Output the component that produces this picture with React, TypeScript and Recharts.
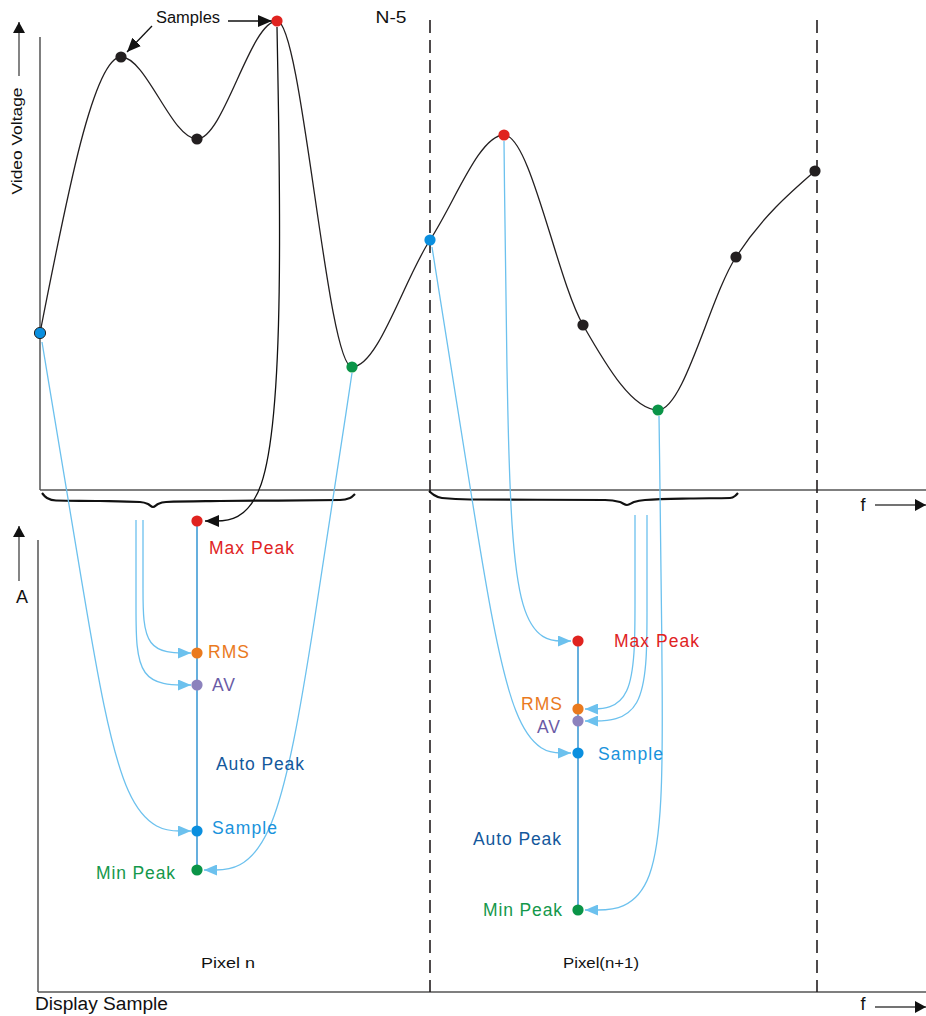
import React from 'react';
import { ComposedChart, Line, Scatter, XAxis, YAxis } from 'recharts';

const W = 926;
const H = 1016;

// diagram units: x to the right, y downward (y axis is reversed)
const sampleX = [40, 121, 197, 277, 352, 430, 504, 583, 658, 736, 815];
const sampleY = [333, 57, 139, 21, 367, 240, 135, 325, 410, 257, 171];
const sampleKind = ['sample', 'plain', 'plain', 'max', 'min', 'sample', 'max', 'plain', 'min', 'plain', 'plain'];

const detectorKinds = ['max', 'rms', 'av', 'sample', 'min'];
const pixelNX = 197;
const pixelNLevels = [521, 653, 685, 831, 870];
const pixelN1X = 578;
const pixelN1Levels = [641, 709, 721, 753, 910];

const detectorNames: Record<string, string> = {
  max: 'Max Peak', rms: 'RMS', av: 'AV', sample: 'Sample', auto: 'Auto Peak', min: 'Min Peak',
};
const labelsN = [
  { x: 209, y: 548, key: 'max' },
  { x: 208, y: 652, key: 'rms' },
  { x: 212, y: 685, key: 'av' },
  { x: 216, y: 764, key: 'auto' },
  { x: 212, y: 828, key: 'sample' },
  { x: 175, y: 873, key: 'min', end: true },
];
const labelsN1 = [
  { x: 614, y: 641, key: 'max' },
  { x: 562, y: 704, key: 'rms', end: true },
  { x: 560, y: 727, key: 'av', end: true },
  { x: 598, y: 754, key: 'sample' },
  { x: 561, y: 839, key: 'auto', end: true },
  { x: 562, y: 910, key: 'min', end: true },
];
const plainLabels = [
  { x: 16, y: 141, text: 'Video Voltage' },
  { x: 22, y: 597, text: 'A' },
  { x: 863, y: 505, text: 'f' },
  { x: 863, y: 1004, text: 'f' },
  { x: 35, y: 1004, text: 'Display Sample' },
  { x: 228, y: 963, text: 'Pixel n' },
  { x: 601, y: 963, text: 'Pixel(n+1)' },
  { x: 391, y: 17, text: 'N-5' },
  { x: 188, y: 17, text: 'Samples' },
];

// control polygons of the connectors (drawn as B-splines)
const cSampleN = [[42, 342], [83, 590], [124, 831], [191, 831]];
const cMinN = [[352, 373], [315, 620], [274, 870], [204, 870]];
const cRmsN = [[143, 520], [143, 590], [143, 653], [191, 653]];
const cAvN = [[136, 520], [136, 610], [136, 685], [191, 685]];
const cMaxN = [[277, 27], [282, 300], [270, 521], [205, 521]];
const cSampleN1 = [[432, 247], [472, 500], [513, 753], [571, 753]];
const cMaxN1 = [[504, 141], [507, 420], [515, 641], [571, 641]];
const cMinN1 = [[659, 416], [663, 700], [662, 910], [585, 910]];
const cRmsN1 = [[635, 515], [635, 600], [635, 709], [585, 709]];
const cAvN1 = [[647, 515], [647, 610], [647, 721], [585, 721]];

const braceN = [[42, 493], [47, 498], [56, 500.5], [100, 501], [140, 502], [148, 504], [153, 507], [158, 504], [166, 502], [220, 501], [340, 500], [350, 498], [355, 494]];
const braceN1 = [[429, 491], [434, 495], [442, 498], [470, 499.5], [605, 500], [620, 502], [627, 505], [634, 502], [645, 500], [690, 498.5], [730, 498], [735, 496], [738, 493]];

const samplesArrow1 = [[152, 26], [127, 52]];
const samplesArrow2 = [[228, 21], [272, 21]];
const voltArrow = [[19, 76], [19, 22]];
const ampArrow = [[19, 581], [19, 526]];
const fArrowTop = [[875, 505], [926, 505]];
const fArrowBottom = [[875, 1007], [926, 1007]];
const divider1 = [[430, 20], [430, 992]];
const divider2 = [[817, 20], [817, 992]];
const topYAxis = [[40, 37], [40, 490]];
const topXAxis = [[40, 490], [926, 490]];
const botYAxis = [[38, 540], [38, 992]];
const botXAxis = [[38, 992], [926, 992]];

const pts = (a: number[][]) => a.map(([x, y]) => ({ x, y }));

const samples = sampleX.map((x, i) => ({ x, y: sampleY[i], kind: sampleKind[i], first: i === 0 }));
const pixelN = detectorKinds.map((kind, i) => ({ x: pixelNX, y: pixelNLevels[i], kind }));
const pixelN1 = detectorKinds.map((kind, i) => ({ x: pixelN1X, y: pixelN1Levels[i], kind }));

const FONT = "'Liberation Sans', Arial, sans-serif";
const LIGHT = '#6cc1ee';
const INK = '#231f20';

const DOT_COLOR: Record<string, string> = {
  plain: '#231f20', max: '#e0231f', min: '#0a9447', sample: '#0a8fdf', rms: '#ea7a1e', av: '#8c82bd',
};
const TEXT_COLOR: Record<string, string> = {
  max: '#e0231f', rms: '#ea7a1e', av: '#6a5ba6', sample: '#1a93dc', auto: '#14589c', min: '#14984b',
};
const TEXT_LEN: Record<string, number> = {
  max: 85, rms: 41, av: 23, sample: 65, auto: 88, min: 79,
};
const PLAIN_STYLE: Record<string, { size: number; len?: number; anchor: string; rotate?: boolean }> = {
  'Video Voltage': { size: 15, len: 107, anchor: 'middle', rotate: true },
  A: { size: 18, anchor: 'middle' },
  f: { size: 18, anchor: 'middle' },
  'Display Sample': { size: 18, len: 133, anchor: 'start' },
  'Pixel n': { size: 14, len: 54, anchor: 'middle' },
  'Pixel(n+1)': { size: 14, len: 76, anchor: 'middle' },
  'N-5': { size: 17, len: 31, anchor: 'middle' },
  Samples: { size: 16, len: 64, anchor: 'middle' },
};

const DotShape = (p: any) => (
  <circle
    cx={p.cx}
    cy={p.cy}
    r={5.6}
    fill={DOT_COLOR[p.payload.kind]}
    stroke={p.payload.first ? '#222' : 'none'}
    strokeWidth={1}
  />
);

const DetectorLabel = (p: any) => {
  const d = p.payload;
  return (
    <text
      x={p.cx}
      y={p.cy}
      textAnchor={d.end ? 'end' : 'start'}
      dominantBaseline="central"
      fill={TEXT_COLOR[d.key]}
      fontFamily={FONT}
      fontSize={17.5}
      textLength={TEXT_LEN[d.key]}
    >
      {detectorNames[d.key]}
    </text>
  );
};

const PlainLabel = (p: any) => {
  const d = p.payload;
  const s = PLAIN_STYLE[d.text];
  return (
    <text
      x={p.cx}
      y={p.cy}
      textAnchor={s.anchor}
      dominantBaseline="central"
      fill="#111"
      fontFamily={FONT}
      fontSize={s.size}
      textLength={s.len}
      lengthAdjust="spacingAndGlyphs"
      transform={s.rotate ? `rotate(-90 ${p.cx} ${p.cy})` : undefined}
    >
      {d.text}
    </text>
  );
};

const seg = (id: string, data: number[][], stroke: string, width: number, extra: any = {}) => (
  <Line
    key={id}
    data={pts(data)}
    dataKey="y"
    type="linear"
    stroke={stroke}
    strokeWidth={width}
    dot={false}
    activeDot={false}
    legendType="none"
    isAnimationActive={false}
    {...extra}
  />
);

export default function App() {
  return (
    <div style={{ position: 'absolute', left: 0, top: 0, width: W, height: H, background: '#fff' }}>
      <svg width={0} height={0} style={{ position: 'absolute' }}>
        <defs>
          <marker id="arrBlue" viewBox="0 0 13 11" refX={13} refY={5.5} markerWidth={13} markerHeight={11} markerUnits="userSpaceOnUse" orient="auto">
            <path d="M0,0 L13,5.5 L0,11 Z" fill={LIGHT} />
          </marker>
          <marker id="arrBlack" viewBox="0 0 14 12" refX={14} refY={6} markerWidth={14} markerHeight={12} markerUnits="userSpaceOnUse" orient="auto">
            <path d="M0,0 L14,6 L0,12 Z" fill="#111" />
          </marker>
          <marker id="arrAxis" viewBox="0 0 11 12" refX={11} refY={6} markerWidth={11} markerHeight={12} markerUnits="userSpaceOnUse" orient="auto">
            <path d="M0,0 L11,6 L0,12 Z" fill="#111" />
          </marker>
        </defs>
      </svg>
      <ComposedChart width={W} height={H} margin={{ top: 0, right: 0, bottom: 0, left: 0 }}>
        <XAxis type="number" dataKey="x" domain={[0, W]} hide />
        <YAxis type="number" dataKey="y" domain={[0, H]} reversed hide />

        {seg('topY', topYAxis, '#3a3a3a', 1.3)}
        {seg('topX', topXAxis, '#555', 1.3)}
        {seg('botY', botYAxis, '#3a3a3a', 1.3)}
        {seg('botX', botXAxis, '#555', 1.5)}
        {seg('div1', divider1, INK, 1.6, { strokeDasharray: '13 7' })}
        {seg('div2', divider2, INK, 1.6, { strokeDasharray: '13 7' })}

        {seg('voltArrow', voltArrow, '#666', 1.6, { markerEnd: 'url(#arrAxis)' })}
        {seg('ampArrow', ampArrow, '#666', 1.6, { markerEnd: 'url(#arrAxis)' })}
        {seg('fTop', fArrowTop, '#444', 1.3, { markerEnd: 'url(#arrAxis)' })}
        {seg('fBot', fArrowBottom, '#444', 1.3, { markerEnd: 'url(#arrAxis)' })}

        {seg('braceN', braceN, '#111', 2.2, { type: 'monotoneX' })}
        {seg('braceN1', braceN1, '#111', 2.2, { type: 'monotoneX' })}

        {seg('pixN', [[pixelNX, pixelNLevels[0]], [pixelNX, pixelNLevels[4]]], '#3f9bd6', 1.6)}
        {seg('pixN1', [[pixelN1X, pixelN1Levels[0]], [pixelN1X, pixelN1Levels[4]]], '#3f9bd6', 1.6)}

        {seg('cSampleN', cSampleN, LIGHT, 1.3, { type: 'basis', markerEnd: 'url(#arrBlue)' })}
        {seg('cMinN', cMinN, LIGHT, 1.3, { type: 'basis', markerEnd: 'url(#arrBlue)' })}
        {seg('cRmsN', cRmsN, LIGHT, 1.3, { type: 'basis', markerEnd: 'url(#arrBlue)' })}
        {seg('cAvN', cAvN, LIGHT, 1.3, { type: 'basis', markerEnd: 'url(#arrBlue)' })}
        {seg('cSampleN1', cSampleN1, LIGHT, 1.3, { type: 'basis', markerEnd: 'url(#arrBlue)' })}
        {seg('cMaxN1', cMaxN1, LIGHT, 1.3, { type: 'basis', markerEnd: 'url(#arrBlue)' })}
        {seg('cMinN1', cMinN1, LIGHT, 1.3, { type: 'basis', markerEnd: 'url(#arrBlue)' })}
        {seg('cRmsN1', cRmsN1, LIGHT, 1.3, { type: 'basis', markerEnd: 'url(#arrBlue)' })}
        {seg('cAvN1', cAvN1, LIGHT, 1.3, { type: 'basis', markerEnd: 'url(#arrBlue)' })}
        {seg('cMaxN', cMaxN, '#111', 1.3, { type: 'basis', markerEnd: 'url(#arrBlack)' })}

        {seg('samplesA1', samplesArrow1, '#111', 1.3, { markerEnd: 'url(#arrBlack)' })}
        {seg('samplesA2', samplesArrow2, '#111', 1.3, { markerEnd: 'url(#arrBlack)' })}

        <Line
          data={samples}
          dataKey="y"
          type="monotoneX"
          stroke={INK}
          strokeWidth={1.3}
          dot={false}
          activeDot={false}
          legendType="none"
          isAnimationActive={false}
        />

        <Scatter data={samples} shape={DotShape} isAnimationActive={false} legendType="none" />
        <Scatter data={pixelN} shape={DotShape} isAnimationActive={false} legendType="none" />
        <Scatter data={pixelN1} shape={DotShape} isAnimationActive={false} legendType="none" />

        <Scatter data={labelsN} shape={DetectorLabel} isAnimationActive={false} legendType="none" />
        <Scatter data={labelsN1} shape={DetectorLabel} isAnimationActive={false} legendType="none" />
        <Scatter data={plainLabels} shape={PlainLabel} isAnimationActive={false} legendType="none" />
      </ComposedChart>
    </div>
  );
}
